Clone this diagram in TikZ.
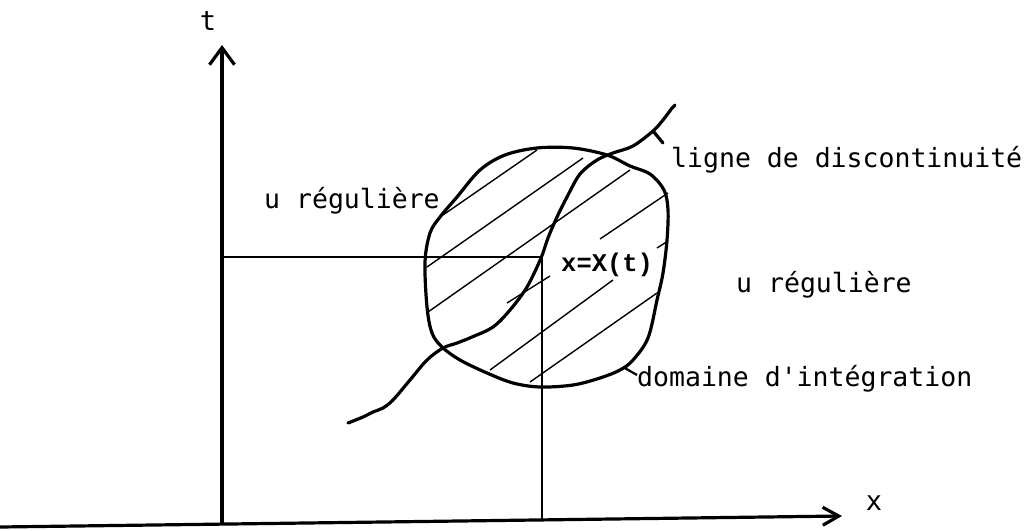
\documentclass[tikz,border=0pt]{standalone}
\usepackage{fontspec}
\newfontfamily\lgfont{DejaVu Sans Mono}
\newfontfamily\courfont{Liberation Mono}
\usetikzlibrary{arrows.meta}
\begin{document}
\begin{tikzpicture}[x=1pt,y=-1pt,
  axis/.style={line width=3.2pt},
  thin/.style={line width=1.6pt},
  hatch/.style={line width=1.4pt},
  bold/.style={line width=3.2pt,line join=round,line cap=round},
  lab/.style={font=\lgfont\fontsize{26.5}{28}\selectfont,inner sep=0pt,anchor=base west},
]
\useasboundingbox (0,0) rectangle (1032,530);
% axes
\coordinate (O) at (222,523);
\coordinate (Ytip) at (222,45);
\coordinate (Xstart) at (0,527);
\coordinate (Xtip) at (842,516);
\draw[axis,-{Straight Barb[length=17pt,width=25pt,line width=3.2pt]}] (O) -- (Ytip);
\draw[axis,-{Straight Barb[length=16pt,width=18pt,line width=3.2pt]}] (Xstart) -- (Xtip);
\node[font=\lgfont\fontsize{27}{28}\selectfont,inner sep=0pt] (tl) at (208,21) {t};
\node[font=\lgfont\fontsize{27}{28}\selectfont,inner sep=0pt] (xl) at (874,503) {x};
% point X(t)
\coordinate (P) at (542,257);
\coordinate (Ph) at (222,257);
\coordinate (Pv) at (542,520);
\draw[thin] (Ph) -- (P) -- (Pv);
% hatching
\draw[hatch] (443,215) -- (537,150);
\draw[hatch] (427,267) -- (583,158);
\draw[hatch] (428,312) -- (630,170);
\draw[hatch] (507,303) -- (550,276);
\draw[hatch] (600,239) -- (668,193);
\draw[hatch] (490,370) -- (613,280);
\draw[hatch] (657,248) -- (668,241);
\draw[hatch] (530,382) -- (657,293);
% domain
\draw[bold] plot[smooth cycle,tension=0.55] coordinates {
(537,148) (573,148) (607,155) (630,166) (650,174) (664,190) (668,210)
(667,240) (663,273) (657,300) (648,338) (633,360) (620,370) (600,378)
(573,385) (540,387) (513,383) (487,373) (460,360) (442,347) (432,333)
(427,307) (425,262) (430,233) (440,217) (457,197) (480,170) (505,155)};
% discontinuity line
\draw[bold] plot[smooth,tension=0.55] coordinates {
(348,423) (363,417) (373,412) (383,408) (393,400) (410,380) (427,360)
(443,348) (457,343) (472,337) (493,327) (510,310) (527,287) (541,258)
(548,238) (557,217) (567,197) (580,174) (597,160) (613,153) (633,146)
(653,131) (663,120) (672,108)};
\draw[bold] (653,131) -- (663,143);
\draw[bold] (672,108) -- (675,105);
% leader
\draw[line width=2.2pt] (623,367) -- (637,375);
% labels
\node[lab] (ur1) at (264,208) {u régulière};
\node[lab] (ld) at (671,167) {ligne de discontinuité};
\node[lab] (ur2) at (736,292) {u régulière};
\node[lab] (dom) at (637,386) {domaine d'intégration};
\node[font=\courfont\bfseries\fontsize{25.5}{26}\selectfont,inner sep=0pt,anchor=base west] (xX) at (561,271) {x=X(t)};
\end{tikzpicture}
\end{document}
